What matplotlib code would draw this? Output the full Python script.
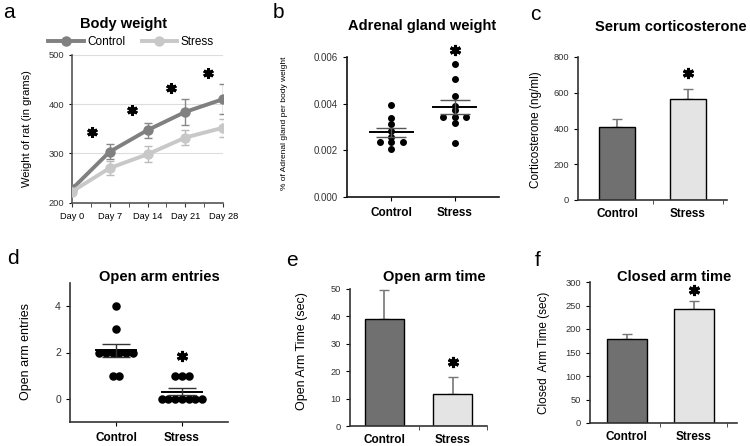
import matplotlib
matplotlib.use('Agg')
import matplotlib.pyplot as plt
import numpy as np

plt.rcParams['font.family'] = ['Liberation Sans', 'DejaVu Sans']

# ---- data ----
days = [0, 7, 14, 21, 28]
day_labels = ['Day 0', 'Day 7', 'Day 14', 'Day 21', 'Day 28']
bw_control = [227, 303, 347, 384, 410]
bw_control_err = [4, 15, 15, 26, 30]
bw_stress = [222, 270, 298, 332, 352]
bw_stress_err = [4, 14, 16, 16, 18]
bw_star_x = [3.8, 11.2, 18.4, 25.2]
bw_star_y = [344, 388, 432, 463]

groups = ['Control', 'Stress']

adrenal_control = [0.00393, 0.00337, 0.00313, 0.00283, 0.00258,
                   0.00234, 0.00234, 0.00234, 0.00207]
adrenal_stress = [0.00569, 0.00507, 0.00434, 0.00391, 0.00374,
                  0.00342, 0.00342, 0.00342, 0.00318, 0.00233]

cort_mean = [410, 565]
cort_err = [41, 54]

entries_control = [4, 3, 2, 2, 2, 2, 2, 2, 1, 1]
entries_stress = [1, 1, 1, 0, 0, 0, 0, 0, 0, 0]

open_time_mean = [39.2, 11.7]
open_time_err = [10.5, 6.3]

closed_time_mean = [178, 242]
closed_time_err = [11, 18]

DARK = '#707070'
LIGHT = '#e4e4e4'

W, H = 750, 446
fig = plt.figure(figsize=(7.5, 4.46), dpi=100)


def add_ax(left, top, right, bottom):
    return fig.add_axes([left / W, 1 - bottom / H, (right - left) / W, (bottom - top) / H])


def ftext(x, y, s, **kw):
    fig.text(x / W, 1 - y / H, s, ha='center', va='center', **kw)


def star(ax, x, y, size=8):
    ax.plot(x, y, marker=(6, 2, 0), color='black', ms=size, mew=2.2, clip_on=False)


def row_offsets(values, step):
    values = np.asarray(values)
    off = np.zeros(len(values))
    for v in np.unique(values):
        idx = np.where(values == v)[0]
        off[idx] = (np.arange(len(idx)) - (len(idx) - 1) / 2) * step
    return off


def simple_axes(ax, color='#333333'):
    for s in ['top', 'right']:
        ax.spines[s].set_visible(False)
    for s in ['left', 'bottom']:
        ax.spines[s].set_color(color)
        ax.spines[s].set_linewidth(1.2)


# ---- a: body weight ----
ax = add_ax(71.7, 54.7, 223.3, 202.6)
simple_axes(ax, '#555555')
ax.set_xlim(0, 28)
ax.set_ylim(200, 500)
ax.set_yticks([200, 300, 400, 500])
for g in [300, 400, 500]:
    ax.axhline(g, color='#dddddd', lw=0.8, zorder=0)
ax.errorbar(days, bw_control, yerr=bw_control_err, fmt='none', ecolor='#888888',
            elinewidth=1, capsize=3, zorder=2)
ax.errorbar(days, bw_stress, yerr=bw_stress_err, fmt='none', ecolor='#bbbbbb',
            elinewidth=1, capsize=3, zorder=2)
l1, = ax.plot(days, bw_control, color='#808080', lw=2.8, marker='o', ms=6.5, label='Control', zorder=3)
l2, = ax.plot(days, bw_stress, color='#c8c8c8', lw=2.8, marker='o', ms=6.5, label='Stress', zorder=3)
ax.set_xticks(days, day_labels, fontsize=6.7)
ax.set_xticks([3.5, 10.5, 17.5, 24.5], minor=True)
ax.tick_params(axis='x', which='both', length=3, color='#333333')
ax.tick_params(axis='y', labelsize=6.7, length=2, labelcolor='#333333')
ax.set_ylabel('Weight of rat (in grams)', fontsize=8)
ax.yaxis.set_label_coords(-0.26, 0.5)
for x, y in zip(bw_star_x, bw_star_y):
    star(ax, x, y, 7.5)
ax.legend(handles=[l1, l2], loc='center', bbox_to_anchor=(131 / W, 1 - 42 / H),
          bbox_transform=fig.transFigure, ncol=2, frameon=False, fontsize=8.5,
          handlelength=3, handletextpad=0.3, columnspacing=1.4, borderpad=0)
ftext(124, 24, 'Body weight', fontsize=10.5, fontweight='bold')
ftext(9, 12, 'a', fontsize=15)

# ---- b: adrenal gland weight ----
ax = add_ax(347, 57, 499, 197)
simple_axes(ax, '#111111')
ax.set_xlim(-0.7, 1.7)
ax.set_ylim(0, 0.006)
ax.set_yticks([0, 0.002, 0.004, 0.006], ['0.000', '0.002', '0.004', '0.006'])
for i, vals in enumerate([adrenal_control, adrenal_stress]):
    vals = np.asarray(vals)
    ax.scatter(i + row_offsets(vals, 0.185), vals, s=16, color='black', zorder=3, clip_on=False)
    m = vals.mean()
    sem = vals.std(ddof=1) / np.sqrt(len(vals))
    ax.plot([i - 0.34, i + 0.34], [m, m], color='black', lw=1.4, zorder=4)
    ax.errorbar([i], [m], yerr=[sem], fmt='none', ecolor='#555555', elinewidth=1,
                capsize=11, zorder=4)
ax.set_xticks([0, 1], groups, fontsize=8.5, fontweight='bold')
ax.tick_params(axis='x', length=3, pad=4)
ax.tick_params(axis='y', labelsize=7, length=3, labelcolor='#333333')
ax.set_ylabel('% of Adrenal gland per body weight', fontsize=6)
ax.yaxis.set_label_coords(-0.39, 0.53)
star(ax, 1, 0.0063, 8)
ftext(422, 26, 'Adrenal gland weight', fontsize=10.5, fontweight='bold')
ftext(278, 13, 'b', fontsize=15)


def bar_panel(ax, means, errs, width, xlim, ylim, yticks, ylabel, yl_coords, ylabel_size):
    simple_axes(ax, '#333333')
    ax.set_xlim(*xlim)
    ax.set_ylim(*ylim)
    ax.set_yticks(yticks)
    ax.bar([0, 1], means, width=width, color=[DARK, LIGHT], edgecolor='black', lw=1, zorder=2)
    ax.errorbar([0, 1], means, yerr=[[0, 0], errs], fmt='none', ecolor='#777777',
                elinewidth=1.2, capsize=3.5, zorder=1)
    ax.set_xticks([0, 1], groups, fontsize=8.5, fontweight='bold')
    ax.set_xticks([0.5, 1.5], minor=True)
    ax.tick_params(axis='x', which='major', length=0, pad=6)
    ax.tick_params(axis='x', which='minor', length=3, color='#333333')
    ax.tick_params(axis='y', labelsize=6.7, length=3, labelcolor='#333333')
    ax.set_ylabel(ylabel, fontsize=ylabel_size)
    ax.yaxis.set_label_coords(*yl_coords)


# ---- c: serum corticosterone ----
ax = add_ax(578, 57, 727, 200)
bar_panel(ax, cort_mean, cort_err, 0.52, (-0.55, 1.55), (0, 800), [0, 200, 400, 600, 800],
          'Corticosterone (ng/ml)', (-0.24, 0.49), 8.5)
star(ax, 1, 710, 8)
ftext(671, 27, 'Serum corticosterone', fontsize=10.5, fontweight='bold')
ftext(535, 14, 'c', fontsize=15)

# ---- d: open arm entries ----
ax = add_ax(70, 283, 228, 422)
simple_axes(ax, '#333333')
ax.set_xlim(-0.7, 1.7)
ax.set_ylim(-1, 5)
ax.set_yticks([0, 2, 4])
for i, vals in enumerate([entries_control, entries_stress]):
    vals = np.asarray(vals, dtype=float)
    ax.scatter(i + row_offsets(vals, 0.103), vals, s=26, color='black', zorder=3)
    m = vals.mean()
    sem = vals.std(ddof=1) / np.sqrt(len(vals))
    ax.plot([i - 0.31, i + 0.31], [m, m], color='black', lw=1.4, zorder=4)
    ax.errorbar([i], [m], yerr=[sem], fmt='none', ecolor='#333333', elinewidth=1,
                capsize=10, zorder=4)
ax.set_xticks([0, 1], groups, fontsize=8.5, fontweight='bold')
ax.tick_params(axis='x', length=3, pad=4)
ax.tick_params(axis='y', labelsize=7.5, length=3, labelcolor='#333333')
ax.set_ylabel('Open arm entries', fontsize=9)
ax.yaxis.set_label_coords(-0.24, 0.51)
star(ax, 1, 1.85, 8)
ftext(159, 277, 'Open arm entries', fontsize=10.5, fontweight='bold')
ftext(13, 258, 'd', fontsize=15)

# ---- e: open arm time ----
ax = add_ax(350, 289, 487, 426)
bar_panel(ax, open_time_mean, open_time_err, 0.57, (-0.5, 1.5), (0, 50),
          [0, 10, 20, 30, 40, 50], 'Open Arm Time (sec)', (-0.31, 0.55), 9)
star(ax, 1, 23.4, 8)
ftext(434, 277, 'Open arm time', fontsize=10.5, fontweight='bold')
ftext(292, 260, 'e', fontsize=15)

# ---- f: closed arm time ----
ax = add_ax(590, 282, 737, 423)
bar_panel(ax, closed_time_mean, closed_time_err, 0.6, (-0.55, 1.65), (0, 300),
          [0, 50, 100, 150, 200, 250, 300], 'Closed  Arm Time (sec)', (-0.27, 0.5), 8.5)
star(ax, 1, 283, 8)
ftext(674, 277, 'Closed arm time', fontsize=10.5, fontweight='bold')
ftext(538, 260, 'f', fontsize=15)

fig.savefig('out.png', dpi=100)
